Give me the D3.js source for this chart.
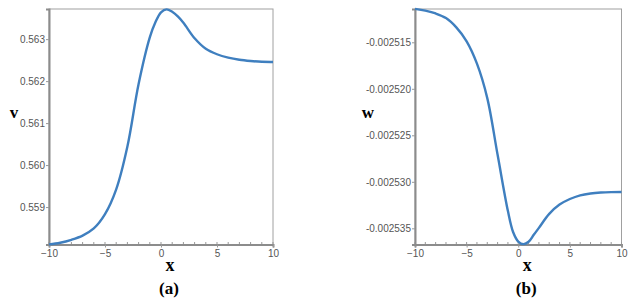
<!DOCTYPE html>
<html>
<head>
<meta charset="utf-8">
<script src="https://cdn.jsdelivr.net/npm/d3@7"></script>
<style>
  body { margin: 0; background: #fff; }
  svg { display: block; }
</style>
</head>
<body>
<svg id="chart" width="640" height="303"></svg>
<script>
// x samples
const xs = [-10, -9, -8, -7, -6, -5, -4, -3, -2, -1, -0.5, 0, 0.5, 1, 1.5, 2, 3, 4, 5, 6, 7, 8, 9, 10];

const vVals = [0.55811, 0.55815, 0.55822, 0.55832, 0.55849, 0.55883, 0.55942, 0.56044, 0.56193,
  0.56304, 0.56340, 0.56364, 0.56371, 0.56365, 0.56354, 0.56339, 0.56302, 0.56277, 0.56264,
  0.56256, 0.56251, 0.56248, 0.56246, 0.562457];

const wVals = [-0.0025114, -0.0025116, -0.0025119, -0.0025124, -0.0025134, -0.0025149, -0.0025173,
  -0.0025210, -0.0025271, -0.00253315, -0.0025354, -0.00253642, -0.0025367, -0.00253645, -0.0025357,
  -0.00253495, -0.00253345, -0.00253245, -0.00253185, -0.00253145, -0.00253125, -0.00253115,
  -0.00253111, -0.0025311];

const xTicks = [-10, -5, 0, 5, 10];
const vTicks = [0.559, 0.560, 0.561, 0.562, 0.563];
const wTicks = [-0.002535, -0.002530, -0.002525, -0.002520, -0.002515];

const svg = d3.select("#chart");
const serif = "'Liberation Serif', 'Times New Roman', serif";

function panel(opts) {
  const { left, right, top, bottom, values, yDomain, yTicks, yFmt, yName, tag, nameX } = opts;
  const x = d3.scaleLinear().domain([-10, 10]).range([left, right]);
  const y = d3.scaleLinear().domain(yDomain).range([bottom, top]);
  const g = svg.append("g");

  // frame
  g.append("rect")
    .attr("x", left).attr("y", top)
    .attr("width", right - left).attr("height", bottom - top)
    .attr("fill", "none").attr("stroke", "#a0a0a0").attr("stroke-width", 1);

  // minor ticks along bottom
  g.selectAll(".mx").data(d3.range(-10, 11, 1)).enter().append("line")
    .attr("x1", d => x(d)).attr("x2", d => x(d))
    .attr("y1", bottom).attr("y2", bottom - 2.5)
    .attr("stroke", "#999");

  const xa = g.append("g").attr("transform", `translate(0,${bottom})`)
    .call(d3.axisBottom(x).tickValues(xTicks).tickSize(3).tickPadding(2).tickFormat(d3.format("d")));
  const ya = g.append("g").attr("transform", `translate(${left},0)`)
    .call(d3.axisLeft(y).tickValues(yTicks).tickSize(3).tickPadding(1).tickFormat(yFmt));

  [xa, ya].forEach(a => {
    a.select(".domain").attr("stroke", "#8c8c8c").attr("stroke-width", 2);
    a.selectAll(".tick line").attr("stroke", "#999");
    a.selectAll("text")
      .style("font-family", "'Liberation Sans', Arial, sans-serif")
      .style("font-size", "10px").attr("fill", "#555");
  });

  g.append("path")
    .datum(xs.map((d, i) => [d, values[i]]))
    .attr("fill", "none")
    .attr("stroke", "#3f7fbf")
    .attr("stroke-width", 2.4)
    .attr("stroke-linejoin", "round")
    .attr("d", d3.line().x(d => x(d[0])).y(d => y(d[1])).curve(d3.curveCatmullRom.alpha(0.5)));

  g.append("text").attr("x", nameX).attr("y", 118)
    .style("font-family", serif).attr("font-weight", "bold").attr("font-size", 17)
    .attr("text-anchor", "middle").text(yName);
  g.append("text").attr("x", x(0) + 9).attr("y", 271)
    .style("font-family", serif).attr("font-weight", "bold").attr("font-size", 18)
    .attr("text-anchor", "middle").text("x");
  g.append("text").attr("x", x(0) + 8).attr("y", 294)
    .style("font-family", serif).attr("font-weight", "bold").attr("font-size", 17)
    .attr("text-anchor", "middle").text(tag);
}

panel({
  left: 49, right: 273, top: 9, bottom: 244.5,
  values: vVals, yDomain: [0.558108, 0.563718], yTicks: vTicks,
  yFmt: d3.format(".3f"), yName: "v", tag: "(a)", nameX: 14
});

panel({
  left: 415, right: 621.5, top: 9, bottom: 244.5,
  values: wVals, yDomain: [-0.00253674, -0.00251142], yTicks: wTicks,
  yFmt: d => "-" + Math.abs(d).toFixed(6), yName: "w", tag: "(b)", nameX: 368
});
</script>
</body>
</html>
